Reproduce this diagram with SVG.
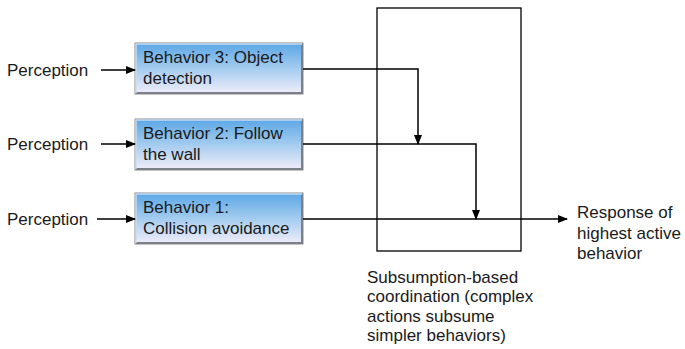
<svg xmlns="http://www.w3.org/2000/svg" width="685" height="349" viewBox="0 0 685 349">
<defs>
<linearGradient id="g" x1="0" y1="0" x2="0" y2="1">
<stop offset="0" stop-color="#5aa6e6"/>
<stop offset="0.45" stop-color="#9cc8ee"/>
<stop offset="1" stop-color="#f2eefa"/>
</linearGradient>
<marker id="ah" markerWidth="10" markerHeight="10" refX="9" refY="5" orient="auto" markerUnits="userSpaceOnUse">
<path d="M0,1 L10,5 L0,9 Z" fill="#000"/>
</marker>
<style>
text{font-family:"Liberation Sans",Arial,sans-serif;font-size:17px;fill:#1a1a1a}
.box{fill:url(#g);stroke:#8a8a8a;stroke-width:1}
.hl{fill:none;stroke:#c8dcf0;stroke-width:1.5}
.sh{fill:none;stroke:#7a7f88;stroke-width:2}
.c{fill:none;stroke:#000;stroke-width:1.5}
</style>
</defs>
<g id="coordinator">
<rect x="377" y="8" width="144" height="243" fill="none" stroke="#000" stroke-width="1.3"/>
</g>
<g id="behavior3">
<rect class="box" x="135" y="43" width="168" height="51"/>
<path class="sh" d="M302,44 V93 H136"/>
<path class="hl" d="M136,93 V44 H302"/>
<text x="143" y="63">Behavior 3: Object</text>
<text x="143" y="84">detection</text>
</g>
<g id="behavior2">
<rect class="box" x="135" y="119" width="168" height="51"/>
<path class="sh" d="M302,120 V169 H136"/>
<path class="hl" d="M136,169 V120 H302"/>
<text x="143" y="139">Behavior 2: Follow</text>
<text x="143" y="160">the wall</text>
</g>
<g id="behavior1">
<rect class="box" x="135" y="193" width="168" height="51"/>
<path class="sh" d="M302,194 V243 H136"/>
<path class="hl" d="M136,243 V194 H302"/>
<text x="143" y="213">Behavior 1:</text>
<text x="143" y="234">Collision avoidance</text>
</g>
<g id="perception3"><text x="7" y="76">Perception</text></g>
<g id="perception2"><text x="7" y="150">Perception</text></g>
<g id="perception1"><text x="7" y="225">Perception</text></g>
<g id="response">
<text x="577" y="218">Response of</text>
<text x="577" y="239">highest active</text>
<text x="577" y="259">behavior</text>
</g>
<g id="caption">
<text x="367" y="283">Subsumption-based</text>
<text x="367" y="302">coordination (complex</text>
<text x="367" y="322">actions subsume</text>
<text x="367" y="341">simpler behaviors)</text>
</g>
<g id="connectors">
<path class="c" d="M101,70 H135" marker-end="url(#ah)"/>
<path class="c" d="M101,144 H135" marker-end="url(#ah)"/>
<path class="c" d="M97,219 H135" marker-end="url(#ah)"/>
<path class="c" d="M303,69 H418 V144" marker-end="url(#ah)"/>
<path class="c" d="M303,144 H476 V219" marker-end="url(#ah)"/>
<path class="c" d="M303,219 H567" marker-end="url(#ah)"/>
</g>
</svg>
